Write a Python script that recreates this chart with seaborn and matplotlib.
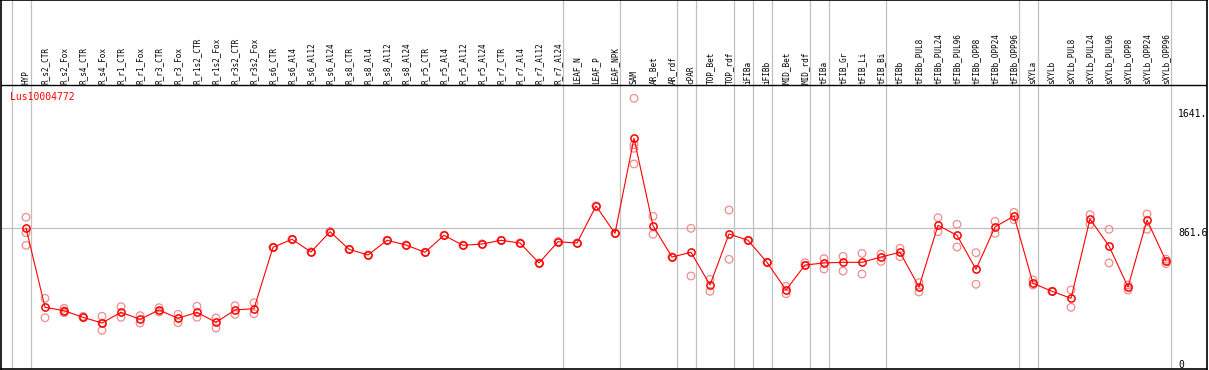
import numpy as np
import pandas as pd
import matplotlib
matplotlib.use('Agg')
import matplotlib.pyplot as plt
import seaborn as sns

# condiciones (eje x), de izquierda a derecha
condiciones = ['HYP',
               'R_s2_CTR', 'R_s2_Fox', 'R_s4_CTR', 'R_s4_Fox', 'R_r1_CTR', 'R_r1_Fox',
               'R_r3_CTR', 'R_r3_Fox', 'R_r1s2_CTR', 'R_r1s2_Fox', 'R_r3s2_CTR', 'R_r3s2_Fox',
               'R_s6_CTR', 'R_s6_Al4', 'R_s6_Al12', 'R_s6_Al24',
               'R_s8_CTR', 'R_s8_Al4', 'R_s8_Al12', 'R_s8_Al24',
               'R_r5_CTR', 'R_r5_Al4', 'R_r5_Al12', 'R_r5_Al24',
               'R_r7_CTR', 'R_r7_Al4', 'R_r7_Al12', 'R_r7_Al24',
               'LEAF_N', 'LEAF_P', 'LEAF_NPK', 'SAM', 'AR_Bet', 'AR_rdf', 'cPAR',
               'TOP_Bet', 'TOP_rdf', 'iFIBa', 'iFIBb', 'MID_Bet', 'MID_rdf',
               'tFIBa', 'tFIB_Gr', 'tFIB_Li', 'tFIB_Bi', 'tFIBb',
               'tFIBb_PUL8', 'tFIBb_PUL24', 'tFIBb_PUL96', 'tFIBb_OPP8', 'tFIBb_OPP24', 'tFIBb_OPP96',
               'sXYLa', 'sXYLb',
               'sXYLb_PUL8', 'sXYLb_PUL24', 'sXYLb_PUL96', 'sXYLb_OPP8', 'sXYLb_OPP24', 'sXYLb_OPP96']

# media por condicion
medias = [861.6,
          344.0, 321.8, 278.7, 241.5, 311.4, 265.7,
          326.4, 272.2, 311.4, 246.1, 326.4, 334.9,
          735.6, 787.9, 705.0, 837.5,
          722.6, 685.4, 781.3, 750.7,
          703.0, 814.0, 748.7, 757.2,
          781.3, 763.7, 633.2, 772.2,
          763.7, 1005.2, 827.0, 1447.1, 876.6, 672.3, 703.0,
          489.6, 822.5, 781.3, 637.7, 456.9, 620.1,
          633.2, 637.7, 637.7, 672.3, 703.0,
          476.5, 879.2, 814.0, 592.0, 868.2, 940.0,
          500.7, 448.4,
          402.7, 920.4, 744.1, 476.5, 913.8, 646.2]

# replicas por condicion
replicas = [[931.5, 830.9, 748.7],
            [402.7, 276.1], [337.5, 308.7, 321.8], [284.6, 276.1], [285.2, 193.9, 241.5],
            [347.9, 278.7], [289.2, 241.5],
            [341.4, 313.3], [298.3, 243.5], [350.5, 278.7], [274.2, 208.9],
            [354.4, 298.3], [374.0, 302.2],
            [735.6, 735.6], [787.9, 787.9], [705.0, 705.0], [837.5, 837.5],
            [722.6, 722.6], [685.4, 685.4], [781.3, 781.3], [750.7, 750.7],
            [703.0, 703.0], [814.0, 814.0], [748.7, 748.7], [757.2, 757.2],
            [781.3, 781.3], [763.7, 763.7], [633.2, 633.2], [772.2, 772.2],
            [763.7, 763.7], [1005.2, 1005.2], [827.0, 827.0],
            [1708.2, 1405.3, 1381.9, 1279.4], [938.0, 820.5], [672.3, 672.3], [859.7, 548.3],
            [526.8, 448.4], [979.1, 657.3], [781.3, 781.3], [637.7, 637.7],
            [481.1, 432.8], [635.1, 618.1],
            [661.9, 594.0], [676.2, 580.9], [695.8, 561.4], [691.9, 643.6], [729.1, 674.9],
            [504.6, 443.9], [928.9, 837.5], [885.8, 737.6], [700.4, 494.1], [904.7, 826.4], [963.4, 915.8],
            [522.2, 489.6], [448.4, 448.4],
            [456.9, 344.0], [948.4, 885.8], [853.1, 633.2], [489.6, 456.9], [953.0, 853.1], [658.0, 629.2]]

gen = 'Lus10004772'
valor_ref = 861.6
etiquetas_y = ['1641.', '861.6', '0']
valores_y = [1641, 861.6, 0]
# ultima condicion de cada grupo (lineas verticales)
fin_grupos = [-1, 0, 28, 31, 34, 35, 37, 38, 39, 41, 42, 45, 52, 53, 60]

pos = np.arange(len(condiciones))
df_medias = pd.DataFrame({'pos': pos, 'media': medias})
df_rep = pd.DataFrame([(i, v) for i, r in enumerate(replicas) for v in r], columns=['pos', 'valor'])

sns.set_style('white')
plt.rcParams['font.family'] = ['DejaVu Sans Mono', 'DejaVu Sans']

# escala en pixeles de la figura original
x0, dx = 26, 19
y0, ky = 360, 0.1532

fig = plt.figure(figsize=(12.09, 3.70), dpi=100)
ax = fig.add_axes([1 / 1209, 1 / 370, 1206 / 1209, 369 / 370])
ax.set_xlim((1 - x0) / dx, (1207 - x0) / dx)
ax.set_ylim((y0 - 369) / ky, y0 / ky)

gris = '#c0c0c0'
for b in fin_grupos:
    ax.axvline(b + 5 / dx, color=gris, lw=0.9, zorder=1)
ax.hlines(valor_ref, (1 - x0) / dx, fin_grupos[-1] + 5 / dx, color=gris, lw=0.9, zorder=1)
ax.axhline((y0 - 85) / ky, color='black', lw=1.0, zorder=2)

sns.scatterplot(x='pos', y='valor', data=df_rep, color='#f08c8c', s=30, marker='o',
                linewidth=0.9, ax=ax, zorder=3, legend=False)
pts = ax.collections[-1]
pts.set_facecolor('none')
pts.set_edgecolor('#f08c8c')

sns.lineplot(x='pos', y='media', data=df_medias, color='red', lw=0.8, marker='o',
             markersize=5.2, markerfacecolor='none', markeredgecolor='red',
             markeredgewidth=1.1, ax=ax, zorder=4)

# etiquetas de las condiciones (cabecera)
for i, c in enumerate(condiciones):
    ax.text(i, (y0 - 84) / ky, c, rotation=90, ha='center', va='bottom',
            fontsize=5.6, color='black')

ax.text((10 - x0) / dx, (y0 - 97) / ky, gen, color='red', fontsize=7, ha='left', va='center')
for lab, v in zip(etiquetas_y, valores_y):
    ax.text((1178 - x0) / dx, v, lab, fontsize=7, ha='left', va='top', color='black')

ax.set_xticks([])
ax.set_yticks([])
ax.set_xlabel('')
ax.set_ylabel('')
for s in ax.spines.values():
    s.set_color('black')
    s.set_linewidth(1.2)
    s.set_visible(True)

fig.savefig('out.png', dpi=100)
